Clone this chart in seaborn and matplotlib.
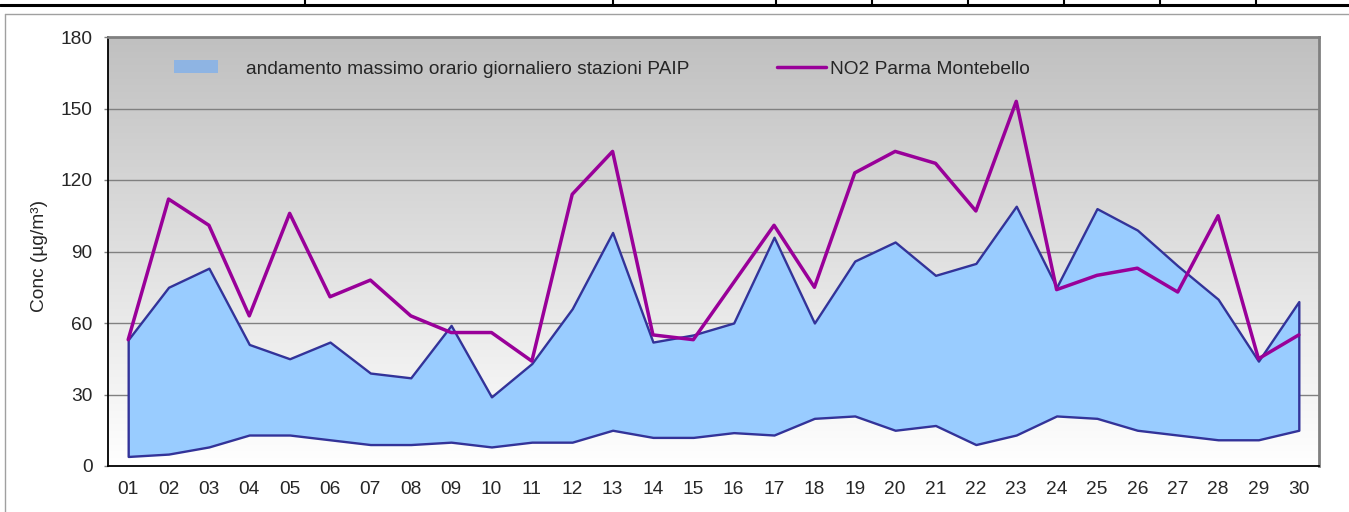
import numpy as np
import pandas as pd
import matplotlib
matplotlib.use("Agg")
import matplotlib.pyplot as plt
import seaborn as sns
from matplotlib.colors import LinearSegmentedColormap
from matplotlib.lines import Line2D
from matplotlib.patches import Patch

# ======================
# Data
# ======================
days = [f"{d:02d}" for d in range(1, 31)]
paip_max = [53, 75, 83, 51, 45, 52, 39, 37, 59, 29, 43, 66, 98, 52, 55,
            60, 96, 60, 86, 94, 80, 85, 109, 75, 108, 99, 84, 70, 44, 69]
paip_min = [4, 5, 8, 13, 13, 11, 9, 9, 10, 8, 10, 10, 15, 12, 12,
            14, 13, 20, 21, 15, 17, 9, 13, 21, 20, 15, 13, 11, 11, 15]
no2_parma = [53, 112, 101, 63, 106, 71, 78, 63, 56, 56, 44, 114, 132, 55, 53,
             77, 101, 75, 123, 132, 127, 107, 153, 74, 80, 83, 73, 105, 45, 55]

label_area = "andamento massimo orario giornaliero stazioni PAIP"
label_line = "NO2 Parma Montebello"

df = pd.DataFrame({"day": days, "hi": paip_max, "lo": paip_min, "no2": no2_parma})
df["x"] = np.arange(len(df))

# ======================
# Figure
# ======================
sns.set_style("white")
plt.rcParams["font.family"] = ["Liberation Sans", "DejaVu Sans"]
FS = 13.8

W, H = 1349, 512
fig = plt.figure(figsize=(W / 100, H / 100), dpi=100)
ax = fig.add_axes([108 / W, (H - 466) / H, (1319 - 108) / W, (466 - 37) / H])

# gradient background (gray top -> white bottom)
cmap = LinearSegmentedColormap.from_list("bg", ["#FFFFFF", "#C0C0C0"])
grad = np.linspace(0, 1, 256).reshape(-1, 1)
ax.imshow(grad, cmap=cmap, aspect="auto", origin="lower",
          extent=[-0.5, 29.5, 0, 180], zorder=0)

for v in [30, 60, 90, 120, 150]:
    ax.axhline(v, color="#808080", lw=1, zorder=1)

ax.fill_between(df["x"], df["lo"], df["hi"], facecolor="#99CCFF",
                edgecolor="#333399", linewidth=1.7, zorder=2)
sns.lineplot(data=df, x="x", y="no2", color="#990099", linewidth=2.5,
             ax=ax, zorder=3)

ax.set_xlim(-0.5, 29.5)
ax.set_ylim(0, 180)
ax.set_yticks(range(0, 181, 30))
ax.set_xticks(df["x"])
ax.set_xticklabels(days)
ax.tick_params(axis="x", length=0, pad=11, labelsize=FS)
ax.tick_params(axis="y", length=3, width=1, color="#808080", direction="out",
               pad=8, labelsize=FS, left=True)
ax.set_xlabel("")
ax.set_ylabel("Conc (µg/m³)", fontsize=FS)
ax.yaxis.set_label_coords(-60 / (1319 - 108), 0.49)

for side in ["left", "bottom"]:
    ax.spines[side].set_color("black")
    ax.spines[side].set_linewidth(1.3)
for side in ["top", "right"]:
    ax.spines[side].set_color("#808080")
    ax.spines[side].set_linewidth(2)
    ax.spines[side].set_visible(True)

# legends
leg1 = ax.legend(handles=[Patch(facecolor="#8EB4E3", edgecolor="none")],
                 labels=[label_area], loc="center left",
                 bbox_to_anchor=(174 / W, 1 - 69 / H), bbox_transform=fig.transFigure,
                 frameon=False, fontsize=FS, borderpad=0, borderaxespad=0,
                 handlelength=2.3, handleheight=0.63, handletextpad=1.45)
ax.add_artist(leg1)
ax.legend(handles=[Line2D([], [], color="#990099", lw=2.5)],
          labels=[label_line], loc="center left",
          bbox_to_anchor=(777 / W, 1 - 69 / H), bbox_transform=fig.transFigure,
          frameon=False, fontsize=FS, borderpad=0, borderaxespad=0,
          handlelength=2.55, handletextpad=0.2)

# page decorations: table rule on top and chart frame
fig.add_artist(Line2D([0, 1], [1 - 4.5 / H, 1 - 4.5 / H], color="black",
                      lw=2.2, transform=fig.transFigure))
for xp in [305, 613, 776, 872, 968, 1064, 1160, 1256]:
    fig.add_artist(Line2D([xp / W, xp / W], [1, 1 - 4.5 / H], color="black",
                          lw=1.5, transform=fig.transFigure))
fig.add_artist(Line2D([4.5 / W, 1], [1 - 13.5 / H, 1 - 13.5 / H], color="#A0A0A0",
                      lw=1, transform=fig.transFigure))
fig.add_artist(Line2D([4.5 / W, 4.5 / W], [0, 1 - 13.5 / H], color="#A0A0A0",
                      lw=1, transform=fig.transFigure))

fig.savefig("out.png", dpi=100)
